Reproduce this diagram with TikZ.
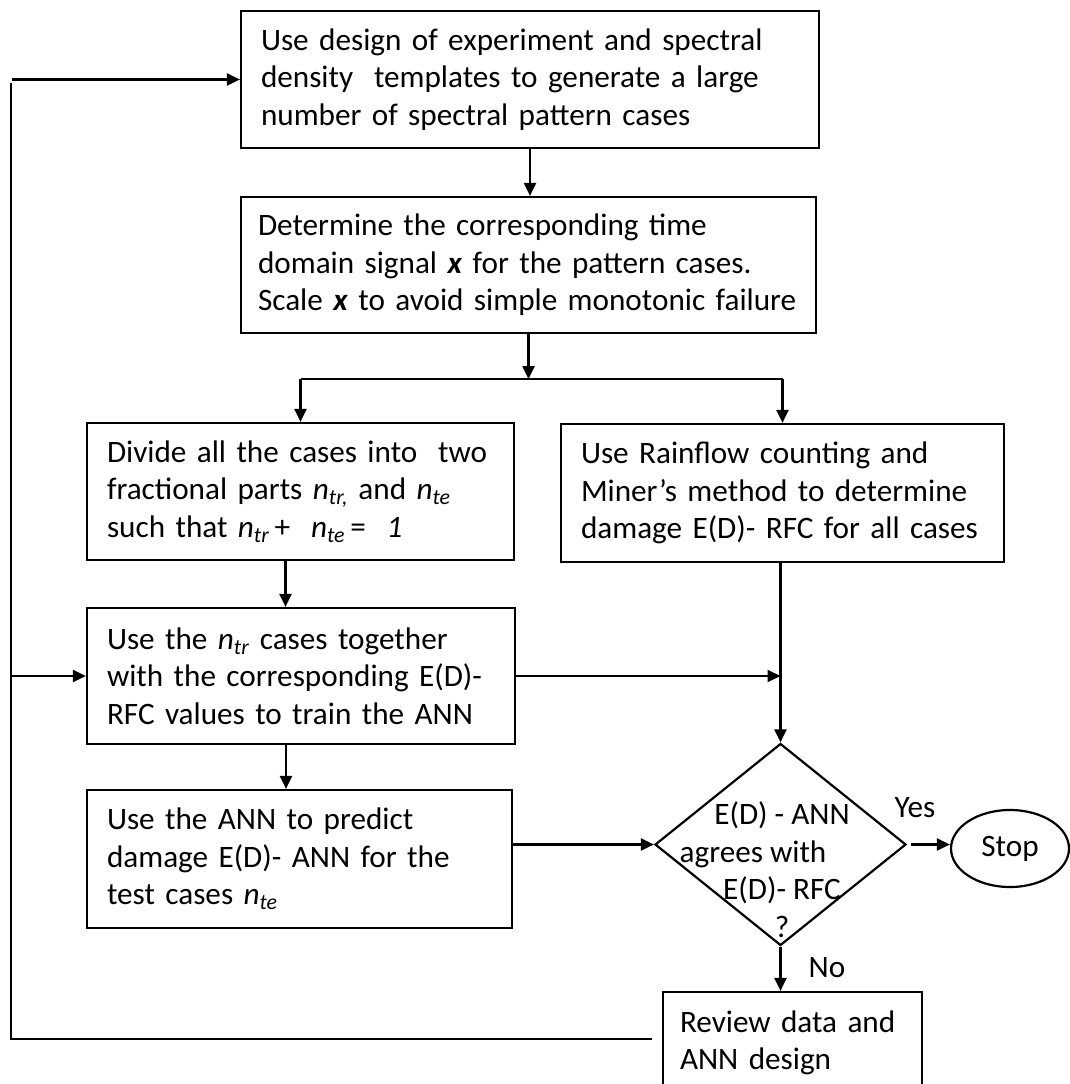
\documentclass[tikz,border=0pt]{standalone}
\usepackage{fontspec}
\setmainfont{Carlito}
\usetikzlibrary{arrows.meta,shapes.geometric}

\newcommand{\ntr}{\textit{n}\textsubscript{\textit{tr}}}
\newcommand{\nte}{\textit{n}\textsubscript{\textit{te}}}

\begin{document}
\begin{tikzpicture}[x=1pt, y=-1pt, line width=2.2pt,
  font=\fontsize{31.2}{37.5}\selectfont,
  proc/.style={draw, rectangle, align=left, inner xsep=20pt, inner ysep=0pt},
  decision/.style={draw, diamond, inner sep=0pt, minimum width=251pt, minimum height=202pt},
  term/.style={draw, ellipse, inner sep=0pt, minimum width=118pt, minimum height=77pt},
  arr/.style={-{Triangle[length=13pt,width=12pt]}},
  lbl/.style={inner sep=0pt}]
\useasboundingbox (0,0) rectangle (1070,1084);
\clip (0,0) rectangle (1070,1084);

% process boxes
\node[proc, text width=538pt, minimum height=137pt] (gen) at (530,79.5)
  {Use design of experiment and spectral\\density\ \ templates to generate a large\\number of spectral pattern cases};
\node[proc, inner xsep=17pt, text width=541pt, minimum height=136pt] (det) at (528.5,265)
  {Determine the corresponding time\\domain signal \textbf{\textit{x}} for the pattern cases.\\Scale \textbf{\textit{x}} to avoid simple monotonic failure};
\node[proc, text width=387pt, minimum height=137pt] (div) at (300.5,491.5)
  {Divide all the cases into\ \ two\\fractional parts \textit{n}\textsubscript{\textit{tr,}} and \nte\\such that \ntr\,+\ \ \nte\,=\ \ \textit{1}};
\node[proc, text width=403pt, minimum height=138pt] (rfc) at (782.5,493)
  {Use Rainflow counting and\\Miner’s method to determine\\damage E(D)- RFC for all cases};
\node[proc, text width=388pt, minimum height=136pt] (train) at (301,676)
  {Use the \ntr{} cases together\\with the corresponding E(D)-\\RFC values to train the ANN};
\node[proc, text width=385pt, minimum height=138pt] (pred) at (299.5,859)
  {Use the ANN to predict\\damage E(D)- ANN for the\\test cases \nte};
\node[proc, inner xsep=17pt, text width=225pt, minimum height=102pt] (review) at (792.5,1043)
  {Review data and\\ANN design};

% decision and stop
\node[decision] (dec) at (780.5,844.5) {};
\node[lbl, align=center] (dectxt) at ([xshift=1.5pt,yshift=-25pt]dec.center)
  {E(D) - ANN\\agrees with\rule{58pt}{0pt}\\E(D)- RFC\\?};
\node[term] (stop) at (1010,848.5) {Stop};
\node[lbl] (yes) at (915,808) {Yes};
\node[lbl] (no) at (827,968) {No};

% connectors
\coordinate (split) at ([yshift=-45pt]det.south);
\draw[arr] (gen.south) -- (gen.south |- det.north);
\draw[arr] (det.south) -- (split);
\draw (div.north |- split) -- (rfc.north |- split);
\draw[arr] (div.north |- split) -- (div.north);
\draw[arr] (rfc.north |- split) -- (rfc.north);
\draw[arr] ([xshift=-15pt]div.south) -- ([xshift=-15pt]div.south |- train.north);
\draw[arr] ([xshift=-15pt]train.south) -- ([xshift=-15pt]train.south |- pred.north);
\draw[arr] (rfc.south -| dec.north) -- (dec.north);
\draw[arr] (train.east) -- (train.east -| dec.north);
\draw[arr] (pred.east |- dec.west) -- (dec.west);
\draw[arr, shorten <=4pt] (dec.east) -- (stop.west |- dec.east);
\draw[arr] (dec.south) -- (dec.south |- review.north);

% feedback loop
\coordinate (fb) at (652,1039);
\coordinate (lb) at (11,1039);
\coordinate (lt) at (11,83);
\coordinate (lin) at (12,79.5);
\draw (fb) -- (lb) -- (lt);
\draw[arr] (lin) -- (gen.west);
\draw[arr] (lb |- train.west) -- (train.west);
\end{tikzpicture}
\end{document}
